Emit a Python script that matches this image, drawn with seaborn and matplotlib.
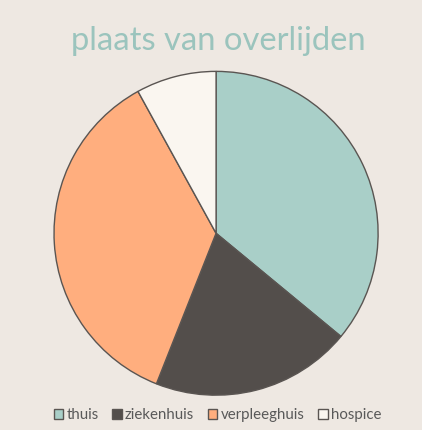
import matplotlib
matplotlib.use("Agg")
import matplotlib.pyplot as plt
import seaborn as sns

# data
categories = ["thuis", "ziekenhuis", "verpleeghuis", "hospice"]
shares = [36, 20, 36, 8]
colors = ["#a9cfc8", "#534e4b", "#ffae7e", "#faf6f0"]

bg = "#eee8e2"
sns.set_theme(style="white", rc={"figure.facecolor": bg, "axes.facecolor": bg})
plt.rcParams["font.family"] = ["Lato", "DejaVu Sans"]

fig = plt.figure(figsize=(4.22, 4.30), dpi=100)
ax = fig.add_axes([0.128, 0.081, 0.768, 0.753])

palette = sns.color_palette(colors)
wedges, _ = ax.pie(
    shares,
    colors=palette,
    startangle=90,
    counterclock=False,
    wedgeprops={"edgecolor": "#5a5552", "linewidth": 1.0},
)
ax.set_xlim(-1.0, 1.0)
ax.set_ylim(-1.0, 1.0)
ax.set_aspect("auto")

fig.text(0.517, 0.905, "plaats van overlijden", ha="center", va="center",
         fontsize=23.6, color="#9bc4bd")

leg = fig.legend(
    wedges, categories,
    loc="center", bbox_to_anchor=(0.515, 0.035), ncol=4,
    frameon=False, fontsize=10.8, handlelength=0.65, handleheight=0.65,
    handletextpad=0.2, columnspacing=0.9,
)
for t in leg.get_texts():
    t.set_color("#595959")

fig.savefig("out.png", dpi=100, facecolor=bg)
